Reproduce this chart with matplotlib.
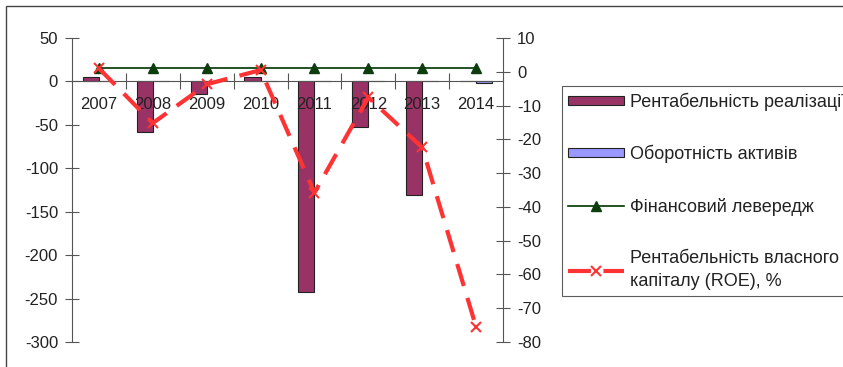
import numpy as np
import matplotlib
matplotlib.use("Agg")
import matplotlib.pyplot as plt
from matplotlib.patches import Rectangle

plt.rcParams['font.family'] = ['Liberation Sans', 'DejaVu Sans']
plt.rcParams['axes.unicode_minus'] = False

years = ['2007', '2008', '2009', '2010', '2011', '2012', '2013', '2014']
sales_profitability = [5, -58, -15, 5, -243, -52, -131, 1]
asset_turnover = [0.4, 0.4, 0.4, 0.4, 0.4, 0.4, 0.4, -1.5]
financial_leverage = [1, 1, 1, 1, 1, 1, 1, 1]
roe = [1.0, -15.2, -3.7, 0.5, -35.8, -7.6, -22.4, -75.5]

labels = ['Рентабельність реалізації', 'Оборотність активів',
          'Фінансовий левередж', 'Рентабельність власного\nкапіталу (ROE), %']

fig = plt.figure(figsize=(8.43, 3.67), dpi=100)
ax = fig.add_axes([72 / 843, 1 - 342 / 367, (503 - 72) / 843, (342 - 38) / 367])
ax2 = ax.twinx()

x = np.arange(len(years))
w = 0.3
b1 = ax.bar(x - w / 2, sales_profitability, w, color='#993366',
            edgecolor='#222222', linewidth=0.8, label=labels[0])
b2 = ax.bar(x + w / 2, asset_turnover, w, color='#9999FF',
            edgecolor='#222222', linewidth=0.8, label=labels[1])

l1, = ax2.plot(x, financial_leverage, color='#003300', lw=1.2, marker='^',
               markersize=7.5, markerfacecolor='#0d3d0d', markeredgecolor='#0d3d0d',
               label=labels[2])
l2, = ax2.plot(x, roe, color='#FF3333', lw=3, dashes=(5.5, 3), marker='x',
               markersize=7, markeredgewidth=1.5, markeredgecolor='#FF3333',
               label=labels[3])

ax.set_xlim(-0.5, len(years) - 0.5)
ax.set_ylim(-300, 50)
ax2.set_ylim(-80, 10)
ax.set_yticks(np.arange(-300, 51, 50))
ax2.set_yticks(np.arange(-80, 11, 10))

axis_col = '#555555'
text_col = '#222222'

# category axis sits on the zero line
ax.spines['bottom'].set_position(('data', 0))
for s in ['top', 'right']:
    ax.spines[s].set_visible(False)
for s in ['top', 'bottom', 'left']:
    ax2.spines[s].set_visible(False)
for s in ['left', 'bottom']:
    ax.spines[s].set_color(axis_col)
ax2.spines['right'].set_color(axis_col)

# boundary ticks crossing the zero line, year labels centred in each slot
ax.set_xticks(np.arange(0.5, len(years) - 0.5, 1))
ax.set_xticklabels([])
ax.set_xticks(x, minor=True)
ax.set_xticklabels(years, minor=True)
ax.tick_params(axis='x', which='major', direction='inout', length=11,
               color=axis_col, width=0.8)
ax.tick_params(axis='x', which='minor', length=0, pad=11, labelsize=12,
               labelcolor=text_col)

ax.tick_params(axis='y', direction='inout', length=10, color=axis_col,
               width=0.8, pad=5, labelsize=12, labelcolor=text_col)
ax2.tick_params(axis='y', direction='inout', length=10, color=axis_col,
                width=0.8, pad=5, labelsize=12, labelcolor=text_col)

leg = fig.legend([b1, b2, l1, l2], labels, loc='upper left',
                 bbox_to_anchor=(562 / 843, 1 - 86 / 367),
                 bbox_transform=fig.transFigure, frameon=True, fancybox=False,
                 edgecolor='#333333', fontsize=13, handlelength=3.1,
                 handleheight=0.4, handletextpad=0.3, labelspacing=1.9,
                 borderpad=0.35, borderaxespad=0)
leg.get_frame().set_linewidth(0.8)
for t in leg.get_texts():
    t.set_color(text_col)
    t.set_linespacing(1.45)

# outer chart border
fig.patches.append(Rectangle((6 / 843, -0.1), 1.2, 1.1 - 6 / 367,
                             transform=fig.transFigure, fill=False,
                             edgecolor='#444444', linewidth=1.0))

fig.savefig('out.png', dpi=100)
